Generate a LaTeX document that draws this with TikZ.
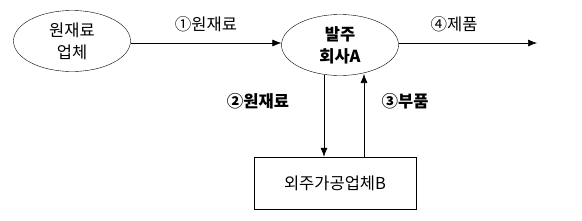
\documentclass[tikz,border=0pt]{standalone}
\usepackage{fontspec}
\setmainfont{Noto Sans CJK KR}
\usetikzlibrary{shapes.geometric,arrows.meta}
\begin{document}
\begin{tikzpicture}[x=1pt,y=-1pt,
  every node/.style={font=\fontsize{16.5}{22}\selectfont, inner sep=0pt},
  oval/.style={draw, ellipse, minimum width=117pt, minimum height=61pt, align=center},
  boxn/.style={draw, rectangle, minimum width=162pt, minimum height=52pt},
  flow/.style={-{Latex[length=9pt,width=7pt]}, line width=0.6pt},
  lbl/.style={anchor=center},
  bl/.style={font=\fontsize{16.5}{22}\selectfont\bfseries}]
\useasboundingbox (0,0) rectangle (582,220);
\node[oval] (sup) at (72,41) {원재료\\업체};
\node[oval, font=\fontsize{16.5}{22}\selectfont\bfseries] (ord) at (340,45) {발주\\회사A};
\node[boxn] (out) at (335,183) {외주가공업체B};
\coordinate (end) at (537,43);
\coordinate (uptip) at (364,74);
\draw[flow] (sup.east |- 0,43) -- (ord.west |- 0,43);
\draw[flow] (ord.east |- 0,43) -- (end);
\draw[flow] (ord.south -| 324,0) ++(0,-1) -- (out.north -| 324,0);
\draw[flow] (out.north -| uptip) -- (uptip);
\node[lbl] (l1) at (206,24) {①원재료};
\node[lbl] (l4) at (454,24) {④제품};
\node[lbl,bl] (l2) at (258,101) {②원재료};
\node[lbl,bl] (l3) at (405,101) {③부품};
\end{tikzpicture}
\end{document}
